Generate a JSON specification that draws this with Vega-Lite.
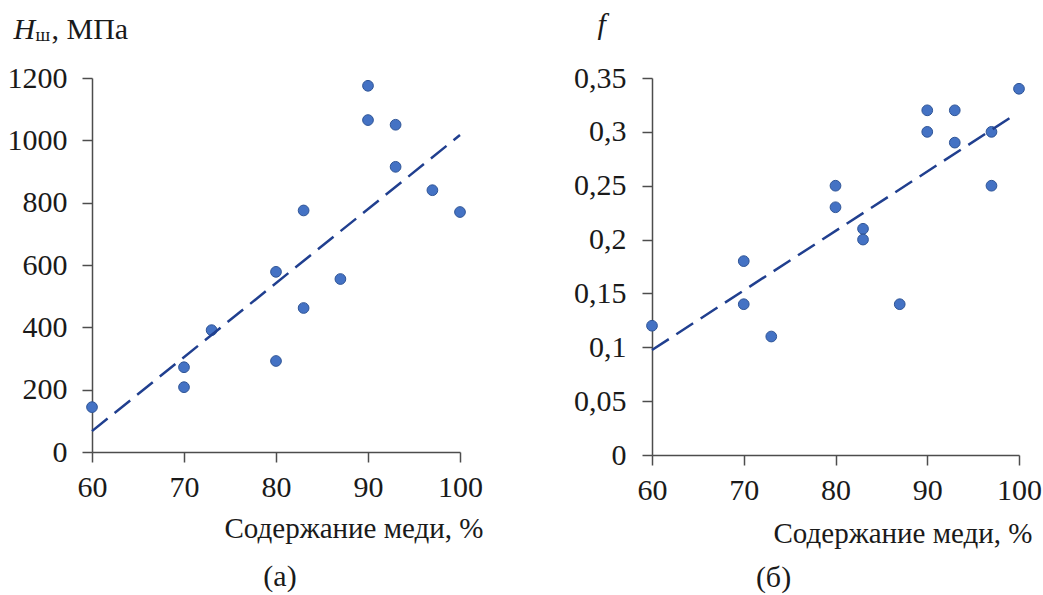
{
  "$schema": "https://vega.github.io/schema/vega-lite/v6.json",
  "background": "white",
  "padding": {"left": 7, "top": 9, "right": 5, "bottom": 5},
  "spacing": 90,
  "datasets": {
    "a": [
      {"cu": 60, "h": 144}, {"cu": 70, "h": 272}, {"cu": 70, "h": 208}, {"cu": 73, "h": 391},
      {"cu": 80, "h": 578}, {"cu": 80, "h": 292}, {"cu": 83, "h": 775}, {"cu": 83, "h": 462},
      {"cu": 87, "h": 555}, {"cu": 90, "h": 1175}, {"cu": 90, "h": 1065}, {"cu": 93, "h": 1050},
      {"cu": 93, "h": 915}, {"cu": 97, "h": 840}, {"cu": 100, "h": 770}
    ],
    "ta": [{"cu": 60, "h": 67}, {"cu": 100, "h": 1017}],
    "b": [
      {"cu": 60, "f": 0.12}, {"cu": 70, "f": 0.18}, {"cu": 70, "f": 0.14}, {"cu": 73, "f": 0.11},
      {"cu": 80, "f": 0.25}, {"cu": 80, "f": 0.23}, {"cu": 83, "f": 0.21}, {"cu": 83, "f": 0.20},
      {"cu": 87, "f": 0.14}, {"cu": 90, "f": 0.32}, {"cu": 90, "f": 0.30}, {"cu": 93, "f": 0.32},
      {"cu": 93, "f": 0.29}, {"cu": 97, "f": 0.30}, {"cu": 97, "f": 0.25}, {"cu": 100, "f": 0.34}
    ],
    "tb": [{"cu": 60, "f": 0.0975}, {"cu": 99.2, "f": 0.314}]
  },
  "config": {
    "view": {"stroke": null},
    "font": "Liberation Serif",
    "axis": {
      "grid": false,
      "domainColor": "#4d4d4d",
      "domainWidth": 1.5,
      "tickColor": "#4d4d4d",
      "tickWidth": 1.5,
      "tickSize": 10,
      "labelFont": "Liberation Serif",
      "labelFontSize": 30,
      "labelColor": "#1a1a1a",
      "labelFlush": false,
      "labelOverlap": false,
      "titleFont": "Liberation Serif",
      "titleFontSize": 30,
      "titleFontWeight": "normal",
      "titleColor": "#1a1a1a"
    },
    "title": {"font": "Liberation Serif", "fontSize": 30, "fontWeight": "normal", "color": "#1a1a1a"}
  },
  "hconcat": [
    {
      "width": 368,
      "height": 374,
      "title": {"text": "(а)", "orient": "bottom", "anchor": "middle", "frame": "group", "dx": 4, "offset": 19},
      "layer": [
        {
          "data": {"name": "a"},
          "mark": {"type": "point", "filled": true, "size": 115, "fill": "#4472C4", "stroke": "#2F5597", "strokeWidth": 1, "opacity": 1},
          "encoding": {
            "x": {
              "field": "cu", "type": "quantitative",
              "scale": {"domain": [60, 100], "nice": false, "zero": false},
              "axis": {"values": [60, 70, 80, 90, 100], "labelFlush": false, "labelAlign": "center", "labelPadding": 10, "title": "Содержание меди, %", "titleFontSize": 29, "titleX": 391, "titleY": 85, "titleAlign": "right", "titleBaseline": "alphabetic", "titleAnchor": null}
            },
            "y": {
              "field": "h", "type": "quantitative",
              "scale": {"domain": [0, 1200], "nice": false},
              "axis": {"values": [0, 200, 400, 600, 800, 1000, 1200], "labelExpr": "toString(datum.value)", "labelPadding": 15, "title": "H", "titleFontStyle": "italic", "titleAngle": 0, "titleX": -79, "titleY": -40, "titleAlign": "left", "titleBaseline": "alphabetic"}
            }
          }
        },
        {
          "data": {"name": "ta"},
          "mark": {"type": "line", "color": "#203F8F", "strokeWidth": 2.5, "strokeDash": [20, 9]},
          "encoding": {
            "x": {
              "field": "cu", "type": "quantitative",
              "axis": {"orient": "top", "domain": false, "ticks": false, "labels": false, "title": "ш", "titleFontSize": 19, "titleX": -57, "titleY": -38, "titleAlign": "left", "titleBaseline": "alphabetic", "titleAnchor": null}
            },
            "y": {
              "field": "h", "type": "quantitative",
              "axis": {"orient": "right", "domain": false, "ticks": false, "labels": false, "title": ", МПа", "titleAngle": 0, "titleX": -409, "titleY": -40, "titleAlign": "left", "titleBaseline": "alphabetic"}
            }
          }
        }
      ],
      "resolve": {"axis": {"x": "independent", "y": "independent"}}
    },
    {
      "width": 367,
      "height": 377,
      "title": {"text": "(б)", "orient": "bottom", "anchor": "middle", "frame": "group", "dx": -62, "offset": 15},
      "layer": [
        {
          "data": {"name": "b"},
          "mark": {"type": "point", "filled": true, "size": 115, "fill": "#4472C4", "stroke": "#2F5597", "strokeWidth": 1, "opacity": 1},
          "encoding": {
            "x": {
              "field": "cu", "type": "quantitative",
              "scale": {"domain": [60, 100], "nice": false, "zero": false},
              "axis": {"values": [60, 70, 80, 90, 100], "labelFlush": false, "labelAlign": "center", "labelPadding": 10, "title": "Содержание меди, %", "titleFontSize": 29, "titleX": 380, "titleY": 87, "titleAlign": "right", "titleBaseline": "alphabetic", "titleAnchor": null}
            },
            "y": {
              "field": "f", "type": "quantitative",
              "scale": {"domain": [0, 0.35], "nice": false},
              "axis": {"values": [0, 0.05, 0.1, 0.15, 0.2, 0.25, 0.3, 0.35], "labelExpr": "replace(toString(datum.value), '.', ',')", "labelPadding": 16, "title": "f", "titleFontStyle": "italic", "titleAngle": 0, "titleX": -55, "titleY": -45, "titleAlign": "left", "titleBaseline": "alphabetic"}
            }
          }
        },
        {
          "data": {"name": "tb"},
          "mark": {"type": "line", "color": "#203F8F", "strokeWidth": 2.5, "strokeDash": [20, 9]},
          "encoding": {
            "x": {"field": "cu", "type": "quantitative"},
            "y": {"field": "f", "type": "quantitative"}
          }
        }
      ]
    }
  ]
}
